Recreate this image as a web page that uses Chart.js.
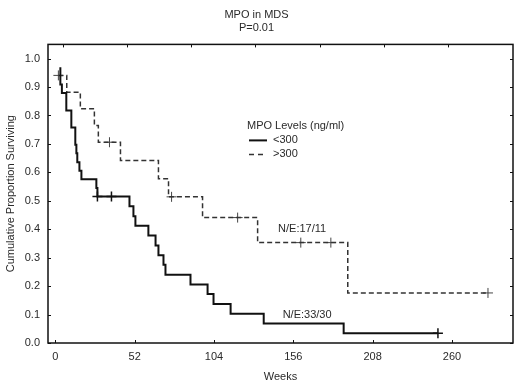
<!DOCTYPE html>
<html>
<head>
<meta charset="utf-8">
<script src="https://cdn.jsdelivr.net/npm/chart.js@4.4.1/dist/chart.umd.min.js"></script>
<style>
  html, body { margin: 0; padding: 0; background: #fff; }
  #box { width: 520px; height: 390px; }
</style>
</head>
<body>
<div id="box"><canvas id="grafico"></canvas></div>
<script>
// grupo <300 (N=33, 30 eventos)
const lowWeeks = [3.3, 3.3, 4.3, 7.2, 10.5, 13.1, 13.8, 14.4, 15.8, 17.1, 26.9, 27.6, 48.6, 51.2, 52.5,
                  61.0, 65.7, 67.6, 70.9, 72.2, 88.6, 99.8, 103.7, 114.9, 136.6, 189.0, 250.8];
const lowSurv = [0.970, 0.909, 0.879, 0.818, 0.758, 0.697, 0.667, 0.636, 0.606, 0.576, 0.545, 0.515, 0.481, 0.446, 0.412,
                 0.378, 0.343, 0.309, 0.275, 0.240, 0.206, 0.172, 0.137, 0.103, 0.069, 0.034, 0.034];
const lowCensorWeeks = [27.6, 36.8, 250.8];
const lowCensorSurv = [0.515, 0.515, 0.034];

// grupo >300 (N=17, 11 eventos)
const highWeeks = [2.0, 7.5, 16.4, 25.6, 28.2, 42.7, 67.6, 74.2, 96.5, 132.6, 191.7, 283.6];
const highSurv = [0.941, 0.882, 0.824, 0.765, 0.706, 0.642, 0.578, 0.514, 0.441, 0.353, 0.176, 0.176];
const highCensorWeeks = [2.0, 35.5, 76.2, 119.5, 160.9, 180.6, 283.6];
const highCensorSurv = [0.941, 0.706, 0.514, 0.441, 0.353, 0.353, 0.176];

// eixos
const xTickValues = [0, 52, 104, 156, 208, 260];
const xTopTickValues = [5.2, 47.2, 89.2, 131.2, 173.2, 215.2, 257.2];
const yTickValues = [0, 0.1, 0.2, 0.3, 0.4, 0.5, 0.6, 0.7, 0.8, 0.9, 1.0];

const titleLines = ["MPO in MDS", "P=0.01"];
const legendTitle = "MPO Levels (ng/ml)";
const seriesNames = ["<300", ">300"];
const noteTexts = ["N/E:17/11", "N/E:33/30"];
const noteWeeks = [146, 149];
const noteSurv = [0.40, 0.098];

const FONT = "'Liberation Sans', Arial, sans-serif";
const TEXT = "#2a2a2a";

function toPoints(xs, ys) {
    return xs.map((x, i) => ({ x: x, y: ys[i] }));
}

// moldura, marcas internas, legenda e anotações
const frame = {
    id: "frame",
    afterDatasetsDraw(chart) {
        const { ctx, chartArea: a, scales } = chart;
        ctx.save();
        ctx.strokeStyle = "#111";
        ctx.lineWidth = 1.5;
        ctx.strokeRect(a.left, a.top, a.right - a.left, a.bottom - a.top);

        ctx.lineWidth = 1;
        ctx.beginPath();
        xTickValues.forEach(v => {
            const px = Math.round(scales.x.getPixelForValue(v)) + 0.5;
            ctx.moveTo(px, a.bottom);
            ctx.lineTo(px, a.bottom - 3);
        });
        xTopTickValues.forEach(v => {
            const px = Math.round(scales.x.getPixelForValue(v)) + 0.5;
            ctx.moveTo(px, a.top);
            ctx.lineTo(px, a.top + 3);
        });
        yTickValues.forEach(v => {
            const py = Math.round(scales.y.getPixelForValue(v)) + 0.5;
            ctx.moveTo(a.left, py);
            ctx.lineTo(a.left + 3, py);
            ctx.moveTo(a.right, py);
            ctx.lineTo(a.right - 3, py);
        });
        ctx.stroke();

        // legenda
        ctx.fillStyle = TEXT;
        ctx.font = "11px " + FONT;
        ctx.textBaseline = "middle";
        ctx.textAlign = "left";
        const lx = a.left + 199;
        const ly = a.top + 82;
        ctx.fillText(legendTitle, lx, ly);

        ctx.strokeStyle = "#111";
        ctx.lineWidth = 2;
        ctx.beginPath();
        ctx.moveTo(lx + 2, ly + 14);
        ctx.lineTo(lx + 20, ly + 14);
        ctx.stroke();
        ctx.fillText(seriesNames[0], lx + 26, ly + 14);

        ctx.strokeStyle = "#333";
        ctx.lineWidth = 1.5;
        ctx.setLineDash([5, 4]);
        ctx.beginPath();
        ctx.moveTo(lx + 2, ly + 28);
        ctx.lineTo(lx + 20, ly + 28);
        ctx.stroke();
        ctx.setLineDash([]);
        ctx.fillText(seriesNames[1], lx + 26, ly + 28);

        // N/E
        noteTexts.forEach((t, i) => {
            ctx.fillText(t, scales.x.getPixelForValue(noteWeeks[i]), scales.y.getPixelForValue(noteSurv[i]));
        });
        ctx.restore();
    }
};

function desenharGrafico() {
    const ctx = document.getElementById("grafico").getContext("2d");

    new Chart(ctx, {
        type: "line",
        data: {
            datasets: [
                {
                    label: seriesNames[0],
                    data: toPoints(lowWeeks, lowSurv),
                    stepped: "before",
                    borderColor: "#111",
                    borderWidth: 2,
                    pointRadius: 0,
                    fill: false,
                },
                {
                    label: seriesNames[1],
                    data: toPoints(highWeeks, highSurv),
                    stepped: "before",
                    borderColor: "#333",
                    borderWidth: 1.5,
                    borderDash: [5, 3],
                    pointRadius: 0,
                    fill: false,
                },
                {
                    label: "censor <300",
                    data: toPoints(lowCensorWeeks, lowCensorSurv),
                    showLine: false,
                    pointStyle: "cross",
                    pointRadius: 5,
                    borderColor: "#111",
                    borderWidth: 1.5,
                },
                {
                    label: "censor >300",
                    data: toPoints(highCensorWeeks, highCensorSurv),
                    showLine: false,
                    pointStyle: "cross",
                    pointRadius: 5,
                    borderColor: "#444",
                    borderWidth: 1,
                },
            ],
        },
        options: {
            responsive: true,
            maintainAspectRatio: false,
            animation: false,
            layout: { padding: { left: 0, right: 7, top: 0, bottom: 0 } },
            plugins: {
                legend: { display: false },
                tooltip: { enabled: false },
                title: {
                    display: true,
                    text: titleLines,
                    color: TEXT,
                    font: { family: FONT, size: 11, weight: "normal", lineHeight: 1.2 },
                    padding: { top: 8, bottom: 10 },
                },
            },
            scales: {
                x: {
                    type: "linear",
                    min: -4.8,
                    max: 300,
                    afterBuildTicks: s => { s.ticks = xTickValues.map(v => ({ value: v })); },
                    afterFit: s => { s.height = 47; },
                    grid: { display: false, drawTicks: false },
                    border: { display: false },
                    ticks: {
                        padding: 7,
                        color: TEXT,
                        font: { family: FONT, size: 11 },
                        maxRotation: 0,
                    },
                    title: {
                        display: true,
                        text: "Weeks",
                        color: TEXT,
                        font: { family: FONT, size: 11 },
                        padding: { top: 0, bottom: 6 },
                    },
                },
                y: {
                    type: "linear",
                    min: 0,
                    max: 1.05,
                    afterBuildTicks: s => { s.ticks = yTickValues.map(v => ({ value: v })); },
                    afterFit: s => { s.width = 48; },
                    grid: { display: false, drawTicks: false },
                    border: { display: false },
                    ticks: {
                        padding: 8,
                        color: TEXT,
                        font: { family: FONT, size: 11 },
                        callback: v => Number(v).toFixed(1),
                    },
                    title: {
                        display: true,
                        text: "Cumulative Proportion Surviving",
                        color: TEXT,
                        font: { family: FONT, size: 11 },
                        padding: { top: 4, bottom: 0 },
                    },
                },
            },
        },
        plugins: [frame],
    });
}

document.addEventListener("DOMContentLoaded", function() {
    desenharGrafico();
});
</script>
</body>
</html>
